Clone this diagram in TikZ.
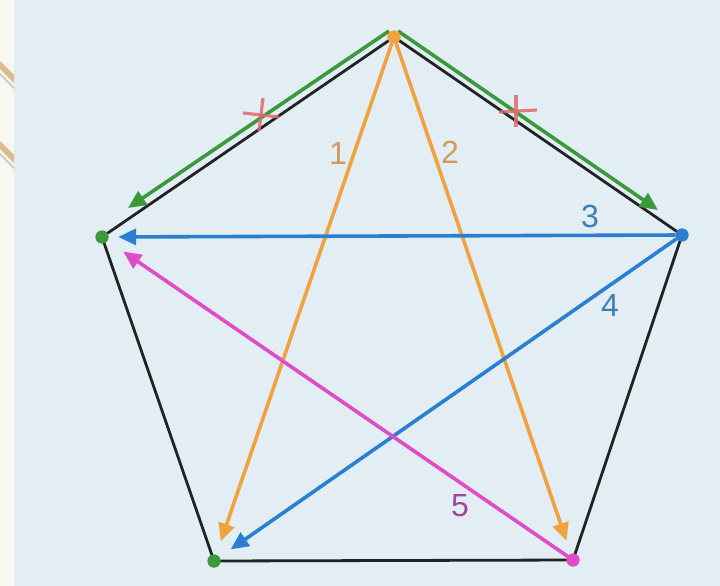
\documentclass[tikz,border=0pt]{standalone}
\usepackage{fontspec}
\setmainfont{Liberation Sans}
\usetikzlibrary{arrows.meta}
\definecolor{bgblue}{HTML}{E2EEF4}
\definecolor{stripbg}{HTML}{F8F8F3}
\definecolor{beige}{HTML}{D9BE8C}
\definecolor{edgec}{HTML}{222222}
\definecolor{greenc}{HTML}{3A9A3A}
\definecolor{orangec}{HTML}{F0A23C}
\definecolor{bluec}{HTML}{2A7FD0}
\definecolor{magc}{HTML}{E04CC8}
\definecolor{crossc}{HTML}{E06A6A}
\definecolor{lblorange}{HTML}{D29A5A}
\definecolor{lblblue}{HTML}{3F7FB0}
\definecolor{lblmag}{HTML}{A0479A}
\tikzset{
  vdot/.style={circle,inner sep=0pt,minimum size=13pt,fill=#1},
  edge/.style={draw=edgec,line width=2.8pt,line join=round},
  arr/.style={draw=#1,line width=3.6pt,-{Triangle[length=18pt,width=16pt]}},
  crossmark/.style={draw=crossc,line width=3.2pt,opacity=0.85},
  lbl/.style={font=\fontsize{32}{32}\selectfont,text=#1,inner sep=0pt}
}
\begin{document}
\begin{tikzpicture}[x=1pt,y=-1pt]
\useasboundingbox (0,0) rectangle (720,586);
\fill[bgblue] (0,0) rectangle (720,586);
\fill[stripbg] (0,0) rectangle (14,586);
\begin{scope}
\clip (0,0) rectangle (14,586);
\draw[beige,line width=6pt] (-10,55) -- (30,95);
\draw[beige,line width=6pt] (-10,135) -- (30,175);
\draw[gray!40,line width=2pt] (-10,64) -- (30,104);
\draw[gray!40,line width=2pt] (-10,144) -- (30,184);
\end{scope}
% vertices
\coordinate (A) at (394,37);
\coordinate (B) at (682,235);
\coordinate (C) at (573,560);
\coordinate (D) at (214,561);
\coordinate (E) at (102,237);
% pentagon edges
\draw[edge] (A) -- (B) -- (C) -- (D) -- (E) -- cycle;
% green parallel arrows
\coordinate (g1s) at (389,31);
\coordinate (g1e) at (128,208);
\coordinate (g2s) at (398,31);
\coordinate (g2e) at (658,210);
\draw[arr=greenc] (g1s) -- (g1e);
\draw[arr=greenc] (g2s) -- (g2e);
% dots
\node[vdot=orangec] (nA) at (A) {};
\node[vdot=bluec] (nB) at (B) {};
\node[vdot=magc] (nC) at (C) {};
\node[vdot=greenc] (nD) at (D) {};
\node[vdot=greenc] (nE) at (E) {};
% diagonals
\draw[arr=orangec,shorten >=14pt] (nA) -- (nD);
\draw[arr=orangec,shorten >=13.5pt] (nA) -- (nC);
\draw[arr=bluec,shorten >=9.5pt] (nB) -- (nE);
\draw[arr=bluec,shorten >=13.5pt] (nB) -- (nD);
\draw[arr=magc,shorten >=19pt] (nC) -- (nE);
% redraw dots on top
\node[vdot=orangec] at (A) {};
\node[vdot=bluec] at (B) {};
\node[vdot=magc] at (C) {};
\node[vdot=greenc] at (D) {};
\node[vdot=greenc] at (E) {};
% equal-length marks
\coordinate (x1) at (261,114);
\coordinate (x2) at (516,111);
\draw[crossmark] ([shift={(2,-16)}]x1) -- ([shift={(-2,17)}]x1);
\draw[crossmark] ([shift={(-18,-1)}]x1) -- ([shift={(18,3)}]x1);
\draw[crossmark] ([shift={(0,-16)}]x2) -- ([shift={(0,16)}]x2);
\draw[crossmark] ([shift={(-17,1)}]x2) -- ([shift={(21,-1)}]x2);
% labels
\node[lbl=lblorange] (l1) at (338,153) {1};
\node[lbl=lblorange] (l2) at (450,152) {2};
\node[lbl=lblblue] (l3) at (590,216) {3};
\node[lbl=lblblue] (l4) at (610,305) {4};
\node[lbl=lblmag] (l5) at (460,506) {5};
\end{tikzpicture}
\end{document}
